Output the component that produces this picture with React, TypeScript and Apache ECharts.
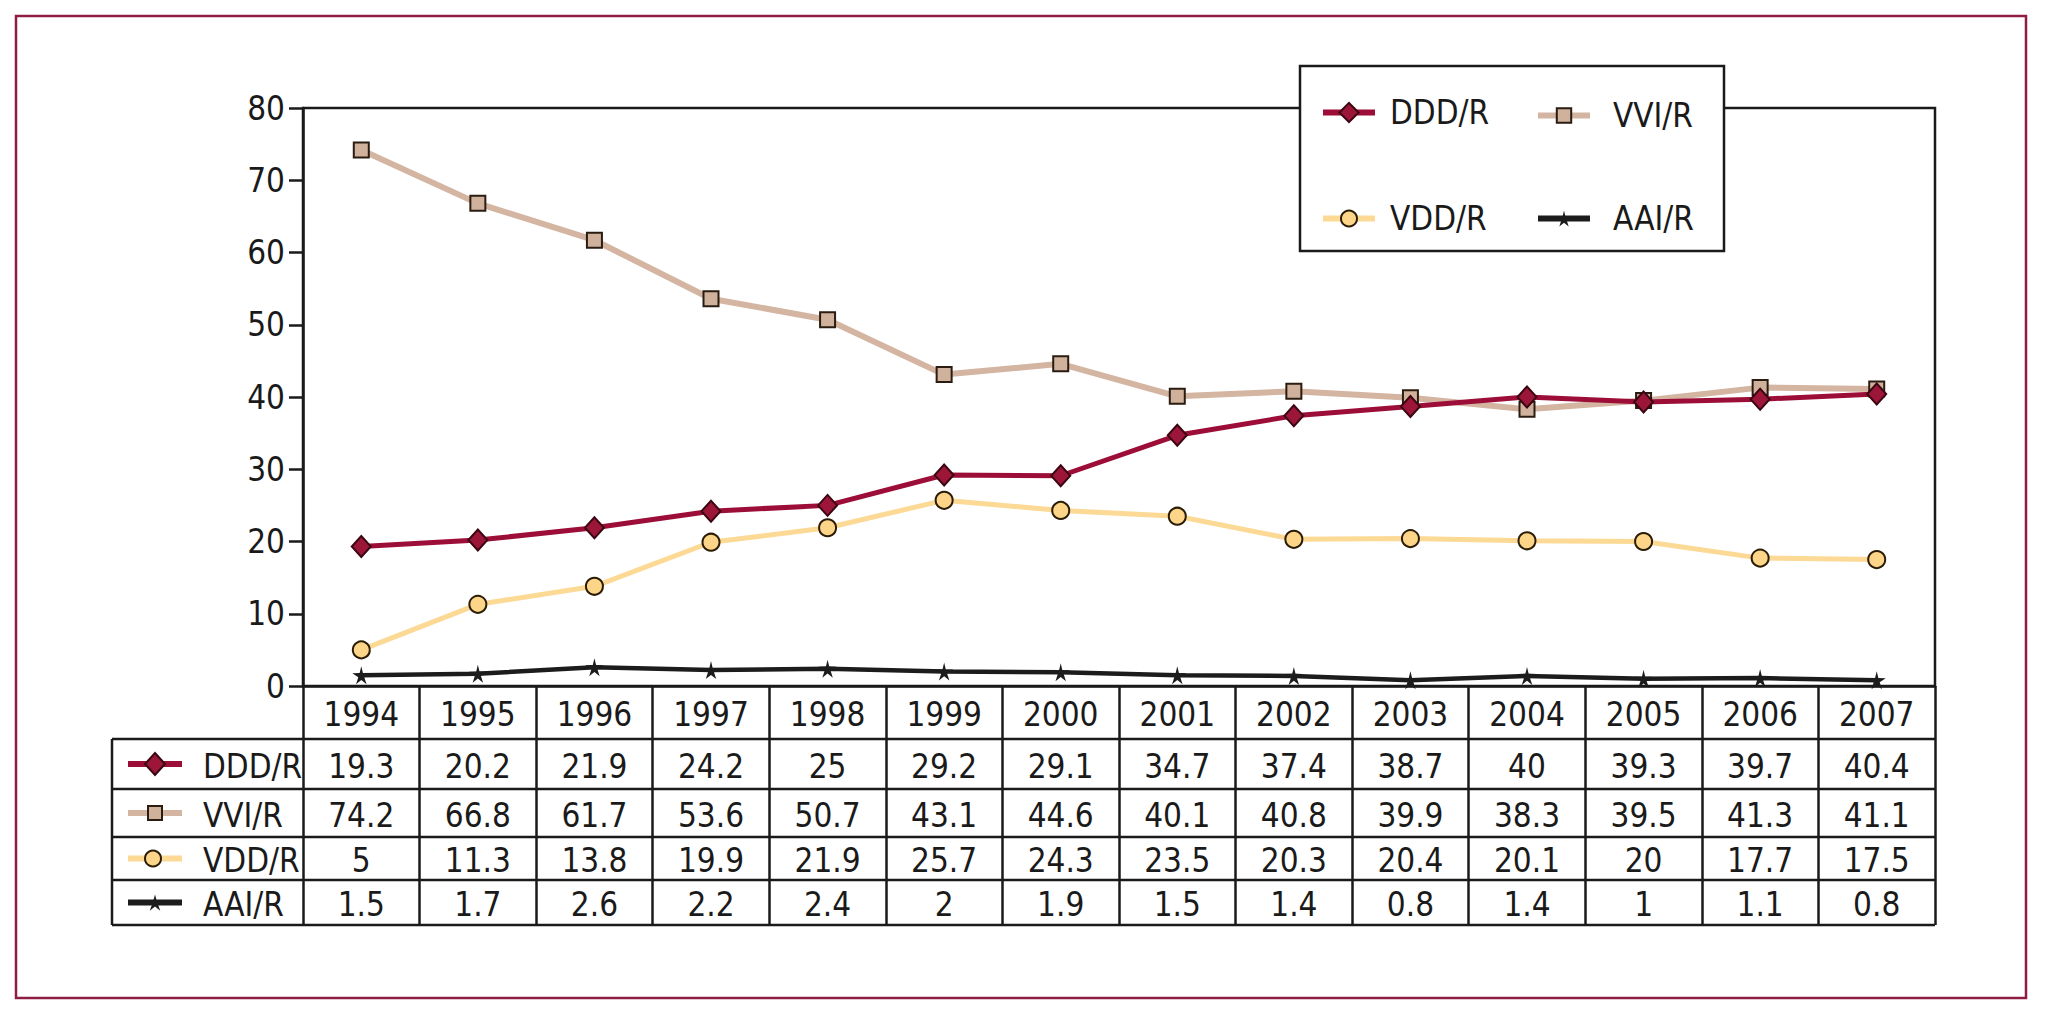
import React, { useEffect, useRef } from "react";
import * as echarts from "echarts";

const years = ["1994", "1995", "1996", "1997", "1998", "1999", "2000", "2001", "2002", "2003", "2004", "2005", "2006", "2007"];
const seriesNames = ["DDD/R", "VVI/R", "VDD/R", "AAI/R"];
const dddValues = [19.3, 20.2, 21.9, 24.2, 25, 29.2, 29.1, 34.7, 37.4, 38.7, 40, 39.3, 39.7, 40.4];
const vviValues = [74.2, 66.8, 61.7, 53.6, 50.7, 43.1, 44.6, 40.1, 40.8, 39.9, 38.3, 39.5, 41.3, 41.1];
const vddValues = [5, 11.3, 13.8, 19.9, 21.9, 25.7, 24.3, 23.5, 20.3, 20.4, 20.1, 20, 17.7, 17.5];
const aaiValues = [1.5, 1.7, 2.6, 2.2, 2.4, 2, 1.9, 1.5, 1.4, 0.8, 1.4, 1, 1.1, 0.8];
const yMin = 0;
const yMax = 80;
const yInterval = 10;

const FONT = "'Liberation Sans Narrow', 'Arial Narrow', 'DejaVu Sans Condensed', sans-serif";
const INK = "#1a1a1a";
const STAR = "path://M12,0 L14.2,9.2 L24,9.4 L16,14.8 L19,24 L12,18.4 L5,24 L8,14.8 L0,9.4 L9.8,9.2 Z";

const colors = {
  ddd: { line: "#9c0d38", fill: "#9b1638", border: "#3b0612" },
  vvi: { line: "#d3b5a1", fill: "#cfb19c", border: "#2b1c12" },
  vdd: { line: "#fcd995", fill: "#fdd589", border: "#2a1c05" },
  aai: { line: "#1c1c1c", fill: "#1c1c1c", border: "#1c1c1c" },
};

// layout
const G_LEFT = 303;
const G_TOP = 108;
const G_W = 1632;
const G_H = 578;
const G_BOTTOM = G_TOP + G_H;
const TABLE_LEFT = 112;
const ROW_LINES = [739, 789, 837, 880, 925];

function starPoints(cx: number, cy: number, r: number) {
  const pts: number[][] = [];
  for (let i = 0; i < 10; i++) {
    const rr = i % 2 === 0 ? r : r * 0.34;
    const a = -Math.PI / 2 + (i * Math.PI) / 5;
    pts.push([cx + rr * Math.cos(a), cy + rr * Math.sin(a)]);
  }
  return pts;
}

export default function App() {
  const ref = useRef<HTMLDivElement>(null);

  useEffect(() => {
    if (!ref.current) return;
    const chart = echarts.init(ref.current, undefined, { renderer: "svg" });
    const colW = G_W / years.length;
    const rowsData = [dddValues, vviValues, vddValues, aaiValues];
    const graphics: any[] = [];

    // outer frame
    graphics.push({
      type: "rect",
      z: 0,
      shape: { x: 16, y: 16, width: 2010, height: 982 },
      style: { fill: "none", stroke: "#8e1c44", lineWidth: 2.5 },
    });

    // table horizontal lines
    ROW_LINES.forEach((y) => {
      graphics.push({
        type: "line",
        z: 1,
        shape: { x1: TABLE_LEFT, y1: y, x2: G_LEFT + G_W, y2: y },
        style: { stroke: INK, lineWidth: 2.5 },
      });
    });
    graphics.push({
      type: "line",
      z: 1,
      shape: { x1: TABLE_LEFT, y1: ROW_LINES[0], x2: TABLE_LEFT, y2: ROW_LINES[4] },
      style: { stroke: INK, lineWidth: 2.5 },
    });

    // table values and row labels
    const keys = ["ddd", "vvi", "vdd", "aai"] as const;
    rowsData.forEach((vals, r) => {
      const cy = (ROW_LINES[r] + ROW_LINES[r + 1]) / 2 + 2;
      vals.forEach((v, i) => {
        graphics.push({
          type: "text",
          z: 2,
          x: G_LEFT + (i + 0.5) * colW,
          y: cy,
          style: { text: String(v), fontSize: 33, fontFamily: FONT, fill: INK, align: "center", verticalAlign: "middle" },
        });
      });
      graphics.push({
        type: "text",
        z: 2,
        x: 203,
        y: cy,
        style: { text: seriesNames[r], fontSize: 33, fontFamily: FONT, fill: INK, align: "left", verticalAlign: "middle" },
      });
      const c = colors[keys[r]];
      graphics.push({
        type: "line",
        z: 2,
        shape: { x1: 128, y1: cy - 2, x2: 182, y2: cy - 2 },
        style: { stroke: c.line, lineWidth: 6 },
      });
      const mx = 155;
      const my = cy - 2;
      if (r === 0) {
        graphics.push({
          type: "polygon",
          z: 3,
          shape: { points: [[mx, my - 11], [mx + 10, my], [mx, my + 11], [mx - 10, my]] },
          style: { fill: c.fill, stroke: c.border, lineWidth: 2 },
        });
      } else if (r === 1) {
        graphics.push({
          type: "rect",
          z: 3,
          shape: { x: mx - 7, y: my - 7, width: 14, height: 14 },
          style: { fill: c.fill, stroke: c.border, lineWidth: 2 },
        });
      } else if (r === 2) {
        graphics.push({
          type: "circle",
          z: 3,
          shape: { cx: mx - 2, cy: my, r: 8 },
          style: { fill: c.fill, stroke: c.border, lineWidth: 2 },
        });
      } else {
        graphics.push({
          type: "polygon",
          z: 3,
          shape: { points: starPoints(mx, my + 1, 9) },
          style: { fill: c.fill },
        });
      }
    });

    // legend box
    graphics.push({
      type: "rect",
      z: 3,
      shape: { x: 1300, y: 66, width: 424, height: 185 },
      style: { fill: "#ffffff", stroke: INK, lineWidth: 2.5 },
    });

    const legendBase = (name: string, left: number, cy: number, h: number, pad: number) => ({
      data: [name],
      left,
      top: cy - h / 2,
      padding: 0,
      itemWidth: 52,
      itemHeight: h,
      selectedMode: false,
      z: 10,
      lineStyle: { width: 6 },
      itemStyle: { borderWidth: 2 },
      textStyle: { fontSize: 33, fontFamily: FONT, color: INK, padding: [0, 0, 0, pad] },
    });

    const option: any = {
      animation: false,
      backgroundColor: "#ffffff",
      grid: {
        left: G_LEFT,
        top: G_TOP,
        width: G_W,
        height: G_H,
        show: true,
        borderColor: INK,
        borderWidth: 2.5,
        backgroundColor: "transparent",
      },
      legend: [
        legendBase(seriesNames[0], 1320, 108, 24, 10),
        legendBase(seriesNames[1], 1535, 108, 18, 18),
        legendBase(seriesNames[2], 1320, 212, 20, 10),
        legendBase(seriesNames[3], 1535, 212, 20, 18),
      ],
      xAxis: {
        type: "category",
        data: years,
        boundaryGap: true,
        axisLine: { show: true, lineStyle: { color: INK, width: 2.5 } },
        axisTick: { show: true, interval: 0, length: ROW_LINES[4] - G_BOTTOM, lineStyle: { color: INK, width: 2.5 } },
        axisLabel: {
          interval: 0,
          margin: 28,
          verticalAlign: "middle",
          fontSize: 33,
          fontFamily: FONT,
          color: INK,
        },
        splitLine: { show: false },
      },
      yAxis: {
        type: "value",
        min: yMin,
        max: yMax,
        interval: yInterval,
        axisLine: { show: true, lineStyle: { color: INK, width: 2.5 } },
        axisTick: { show: true, length: 14, lineStyle: { color: INK, width: 2.5 } },
        axisLabel: { margin: 18, fontSize: 33, fontFamily: FONT, color: INK },
        splitLine: { show: false },
      },
      series: [
        {
          name: seriesNames[1],
          type: "line",
          data: vviValues,
          symbol: "rect",
          symbolSize: 15,
          z: 2,
          lineStyle: { color: colors.vvi.line, width: 6 },
          itemStyle: { color: colors.vvi.fill, borderColor: colors.vvi.border, borderWidth: 2 },
        },
        {
          name: seriesNames[2],
          type: "line",
          data: vddValues,
          symbol: "circle",
          symbolSize: 17,
          z: 3,
          lineStyle: { color: colors.vdd.line, width: 5 },
          itemStyle: { color: colors.vdd.fill, borderColor: colors.vdd.border, borderWidth: 2 },
        },
        {
          name: seriesNames[0],
          type: "line",
          data: dddValues,
          symbol: "diamond",
          symbolSize: [19, 21],
          z: 4,
          lineStyle: { color: colors.ddd.line, width: 5 },
          itemStyle: { color: colors.ddd.fill, borderColor: colors.ddd.border, borderWidth: 2 },
        },
        {
          name: seriesNames[3],
          type: "line",
          data: aaiValues,
          symbol: STAR,
          symbolSize: 18,
          z: 5,
          lineStyle: { color: colors.aai.line, width: 4.5 },
          itemStyle: { color: colors.aai.fill, borderWidth: 0 },
        },
      ],
      graphic: { elements: graphics },
    };

    chart.setOption(option);
    return () => chart.dispose();
  }, []);

  return (
    <div
      ref={ref}
      style={{ position: "absolute", left: 0, top: 0, width: 2054, height: 1020, background: "#ffffff" }}
    />
  );
}
